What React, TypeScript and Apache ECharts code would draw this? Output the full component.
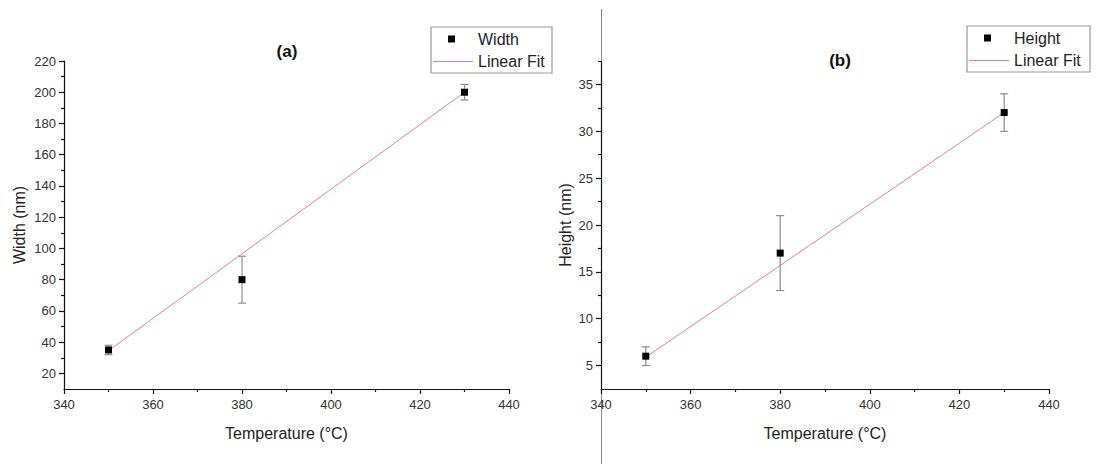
import React, { useEffect, useRef } from "react";
import * as echarts from "echarts";

const temps = [350, 380, 430];
const widths = [35, 80, 200];
const widthErr = [3, 15, 5];
const heights = [6, 17, 32];
const heightErr = [1, 4, 2];
const fitX = [350, 430];
const widthFit = [34.5, 200];
const heightFit = [5.9, 32];

const widthTicks = [20, 40, 60, 80, 100, 120, 140, 160, 180, 200, 220];
const widthMinor = [30, 50, 70, 90, 110, 130, 150, 170, 190, 210];
const heightTicks = [5, 10, 15, 20, 25, 30, 35];
const heightMinor = [7.5, 12.5, 17.5, 22.5, 27.5, 32.5, 37.5];

const X_MIN = 340;
const X_MAX = 440;
const W_MIN = 10;
const W_MAX = 220;
const H_MIN = 2.5;
const H_MAX = 37.5;

const FONT = "'Liberation Sans', Arial, sans-serif";
const FIT_COLOR = "#f47a7a";
const TEXT = "#222";
const AXIS_COLOR = "#111";
const AXIS_W = 1.2;

function errData(vals: number[], errs: number[]) {
  return temps.map((t, i) => [t, vals[i] - errs[i], vals[i] + errs[i]]);
}

function errRender(params: any, api: any) {
  const x = api.value(0);
  const lo = api.coord([x, api.value(1)]);
  const hi = api.coord([x, api.value(2)]);
  const cap = 4;
  const style = { stroke: "#8c8c8c", lineWidth: 1.2 };
  return {
    type: "group",
    children: [
      { type: "line", shape: { x1: lo[0], y1: lo[1], x2: hi[0], y2: hi[1] }, style },
      { type: "line", shape: { x1: lo[0] - cap, y1: lo[1], x2: lo[0] + cap, y2: lo[1] }, style },
      { type: "line", shape: { x1: hi[0] - cap, y1: hi[1], x2: hi[0] + cap, y2: hi[1] }, style },
    ],
  };
}

function xAxis(gridIndex: number) {
  return {
    type: "value",
    gridIndex,
    position: "bottom",
    min: X_MIN,
    max: X_MAX,
    interval: 20,
    splitLine: { show: false },
    name: "Temperature (°C)",
    nameLocation: "middle",
    nameGap: 36,
    nameTextStyle: { fontFamily: FONT, fontSize: 16, color: TEXT },
    axisLine: { show: true, onZero: false, lineStyle: { color: AXIS_COLOR, width: AXIS_W } },
    axisTick: { show: true, inside: false, length: 5, lineStyle: { color: AXIS_COLOR, width: AXIS_W } },
    minorTick: { show: true, splitNumber: 2, length: 3, lineStyle: { color: AXIS_COLOR, width: AXIS_W } },
    axisLabel: { fontFamily: FONT, fontSize: 13, color: "#333", margin: 9 },
  };
}

function yAxes(gridIndex: number, min: number, max: number, ticks: number[], minor: number[], name: string, nameGap: number) {
  const base = { type: "value", gridIndex, position: "left", min, max, splitLine: { show: false } };
  return [
    {
      ...base,
      name,
      nameLocation: "middle",
      nameGap,
      nameTextStyle: { fontFamily: FONT, fontSize: 16, color: TEXT },
      axisLine: { show: true, onZero: false, lineStyle: { color: AXIS_COLOR, width: AXIS_W } },
      axisTick: { show: true, inside: false, customValues: ticks, length: 5, lineStyle: { color: AXIS_COLOR, width: AXIS_W } },
      axisLabel: { customValues: ticks, fontFamily: FONT, fontSize: 13, color: "#333", margin: 8 },
    },
    {
      ...base,
      axisLine: { show: false, onZero: false },
      axisTick: { show: true, inside: false, customValues: minor, length: 3, lineStyle: { color: AXIS_COLOR, width: AXIS_W } },
      axisLabel: { show: false },
    },
  ];
}

function legendBox(x: number, y: number, w: number, h: number, label: string) {
  const font = { fontFamily: FONT, fontSize: 16, fill: TEXT, verticalAlign: "middle" };
  return {
    type: "group",
    x,
    y,
    children: [
      { type: "rect", shape: { x: 0, y: 0, width: w, height: h }, style: { fill: "#fff", stroke: "#9a9a9a", lineWidth: 1.2 } },
      { type: "rect", shape: { x: 17, y: 8.5, width: 7, height: 7 }, style: { fill: "#000" } },
      { type: "text", x: 47, y: 12, style: { ...font, text: label } },
      { type: "line", shape: { x1: 2, y1: 34.5, x2: 42, y2: 34.5 }, style: { stroke: FIT_COLOR, lineWidth: 1 } },
      { type: "text", x: 47, y: 34, style: { ...font, text: "Linear Fit" } },
    ],
    z: 10,
  };
}

export default function App() {
  const ref = useRef<HTMLDivElement>(null);
  useEffect(() => {
    if (!ref.current) return;
    const chart = echarts.init(ref.current, null, { renderer: "svg" });
    const option: any = {
      animation: false,
      backgroundColor: "#fff",
      grid: [
        { left: 64, top: 61, width: 445, height: 328 },
        { left: 601, top: 61, width: 448, height: 328 },
      ],
      xAxis: [xAxis(0), xAxis(1)],
      yAxis: [
        ...yAxes(0, W_MIN, W_MAX, widthTicks, widthMinor, "Width (nm)", 37),
        ...yAxes(1, H_MIN, H_MAX, heightTicks, heightMinor, "Height (nm)", 28),
      ],
      series: [
        {
          name: "Linear Fit",
          type: "line",
          xAxisIndex: 0,
          yAxisIndex: 0,
          symbol: "none",
          lineStyle: { color: FIT_COLOR, width: 1 },
          data: fitX.map((x, i) => [x, widthFit[i]]),
          z: 2,
        },
        {
          name: "Width error",
          type: "custom",
          xAxisIndex: 0,
          yAxisIndex: 0,
          renderItem: errRender,
          data: errData(widths, widthErr),
          z: 3,
        },
        {
          name: "Width",
          type: "scatter",
          xAxisIndex: 0,
          yAxisIndex: 0,
          symbol: "rect",
          symbolSize: 7,
          itemStyle: { color: "#000", opacity: 1 },
          data: temps.map((t, i) => [t, widths[i]]),
          z: 4,
        },
        {
          name: "Linear Fit",
          type: "line",
          xAxisIndex: 1,
          yAxisIndex: 2,
          symbol: "none",
          lineStyle: { color: FIT_COLOR, width: 1 },
          data: fitX.map((x, i) => [x, heightFit[i]]),
          z: 2,
        },
        {
          name: "Height error",
          type: "custom",
          xAxisIndex: 1,
          yAxisIndex: 2,
          renderItem: errRender,
          data: errData(heights, heightErr),
          z: 3,
        },
        {
          name: "Height",
          type: "scatter",
          xAxisIndex: 1,
          yAxisIndex: 2,
          symbol: "rect",
          symbolSize: 7,
          itemStyle: { color: "#000", opacity: 1 },
          data: temps.map((t, i) => [t, heights[i]]),
          z: 4,
        },
      ],
      graphic: [
        {
          type: "line",
          shape: { x1: 601.5, y1: 9, x2: 601.5, y2: 464 },
          style: { stroke: "#8a8a8a", lineWidth: 1 },
          z: 0,
        },
        {
          type: "text",
          x: 287,
          y: 51,
          style: { text: "(a)", fontFamily: FONT, fontSize: 17, fontWeight: "bold", fill: "#111", align: "center", verticalAlign: "middle" },
        },
        {
          type: "text",
          x: 840,
          y: 60,
          style: { text: "(b)", fontFamily: FONT, fontSize: 17, fontWeight: "bold", fill: "#111", align: "center", verticalAlign: "middle" },
        },
        legendBox(431, 27, 121, 46, "Width"),
        legendBox(967, 26, 123, 46, "Height"),
      ],
    };
    chart.setOption(option);
    return () => chart.dispose();
  }, []);
  return <div ref={ref} style={{ position: "absolute", left: 0, top: 0, width: 1098, height: 464 }} />;
}
